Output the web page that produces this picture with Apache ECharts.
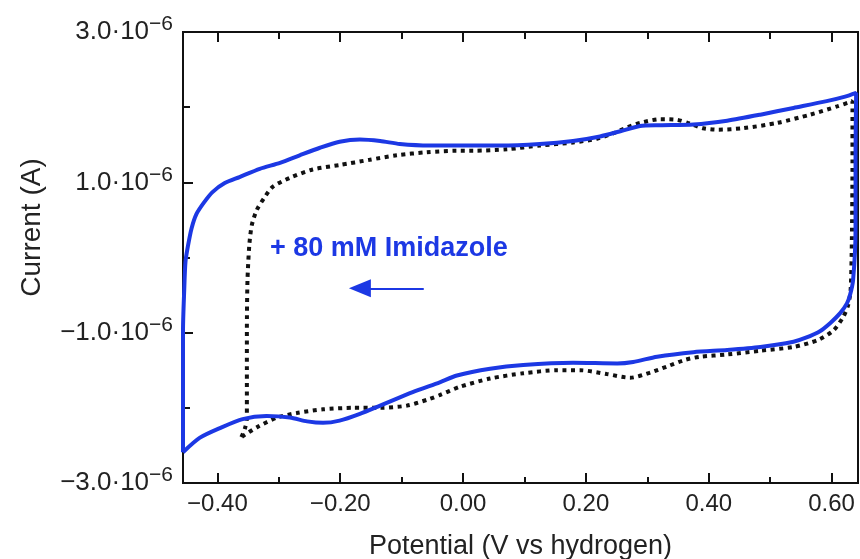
<!DOCTYPE html>
<html>
<head>
<meta charset="utf-8">
<script src="https://cdn.jsdelivr.net/npm/echarts@6/dist/echarts.min.js"></script>
<style>
html, body { margin: 0; padding: 0; background: #fff; }
#main { width: 860px; height: 559px; }
</style>
</head>
<body>
<div id="main"></div>
<script>
// potential (V) and current (uA) of the scan with imidazole
var imidV = [-0.456, -0.456, -0.456, -0.454, -0.452, -0.448, -0.442, -0.434, -0.422, -0.408,
	-0.388, -0.364, -0.331, -0.298, -0.266, -0.233, -0.201, -0.168, -0.135, -0.103,
	-0.054, -0.005, 0.060, 0.125, 0.179, 0.223, 0.256, 0.288, 0.321, 0.375,
	0.430, 0.484, 0.538, 0.592, 0.622, 0.640, 0.639, 0.639, 0.635, 0.630,
	0.625, 0.614, 0.598, 0.581, 0.557, 0.538, 0.484, 0.430, 0.375, 0.316,
	0.277, 0.251, 0.179, 0.098, 0.044, -0.010, -0.038, -0.082, -0.135, -0.168,
	-0.201, -0.228, -0.254, -0.282, -0.320, -0.359, -0.396, -0.429, -0.456];
var imidI = [-2.59, -1.90, -0.97, -0.43, -0.06, 0.15, 0.39, 0.58, 0.73, 0.87,
	0.99, 1.07, 1.18, 1.26, 1.36, 1.46, 1.54, 1.57, 1.55, 1.51,
	1.49, 1.49, 1.49, 1.51, 1.55, 1.61, 1.68, 1.75, 1.76, 1.77,
	1.82, 1.90, 1.99, 2.08, 2.14, 2.19, 1.43, 0.37, -0.30, -0.50,
	-0.61, -0.74, -0.87, -0.98, -1.07, -1.12, -1.19, -1.23, -1.26, -1.32,
	-1.39, -1.41, -1.40, -1.43, -1.48, -1.57, -1.66, -1.79, -1.97, -2.08,
	-2.17, -2.20, -2.18, -2.13, -2.11, -2.15, -2.27, -2.40, -2.59];
// control scan (dotted)
var ctrlV = [-0.361, -0.355, -0.352, -0.352, -0.352, -0.351, -0.348, -0.344, -0.336, -0.324,
	-0.310, -0.282, -0.245, -0.201, -0.152, -0.108, -0.059, -0.010, 0.016, 0.072,
	0.125, 0.179, 0.218, 0.244, 0.267, 0.288, 0.321, 0.349, 0.366, 0.391,
	0.415, 0.456, 0.511, 0.565, 0.609, 0.634, 0.634, 0.633, 0.631, 0.627,
	0.619, 0.603, 0.577, 0.538, 0.484, 0.430, 0.386, 0.362, 0.332, 0.305,
	0.272, 0.234, 0.191, 0.153, 0.098, 0.044, -0.005, -0.038, -0.054, -0.091,
	-0.135, -0.179, -0.228, -0.271, -0.303, -0.336, -0.361];
var ctrlI = [-2.39, -2.27, -2.14, -1.63, -0.97, -0.30, 0.17, 0.43, 0.63, 0.79,
	0.94, 1.06, 1.17, 1.23, 1.30, 1.36, 1.40, 1.42, 1.42, 1.44,
	1.49, 1.53, 1.58, 1.65, 1.73, 1.79, 1.84, 1.83, 1.79, 1.72,
	1.70, 1.72, 1.79, 1.90, 2.01, 2.08, 1.30, 0.23, -0.43, -0.63,
	-0.79, -0.97, -1.10, -1.19, -1.24, -1.29, -1.32, -1.36, -1.45, -1.53,
	-1.60, -1.55, -1.50, -1.50, -1.54, -1.61, -1.72, -1.83, -1.88, -1.97,
	-2.00, -2.00, -2.02, -2.07, -2.13, -2.26, -2.39];
// ticks
var xMajor = [-0.4, -0.2, 0, 0.2, 0.4, 0.6];
var xMinor = [-0.3, -0.1, 0.1, 0.3, 0.5];
var yMajor = [-3e-6, -1e-6, 1e-6, 3e-6];
var yMinor = [-2e-6, 0, 2e-6];
// arrow of the annotation (V, uA)
var arrowV = [-0.064, -0.168];
var arrowI = -0.41;

var xMin = -0.456, xMax = 0.643;
var font = 'Liberation Sans, Arial, Helvetica, sans-serif';
var blue = '#1c38e4';

function pairs(v, i) {
	var out = [];
	for (var k = 0; k < v.length; k++) {
		out.push([v[k], i[k] * 1e-6]);
	}
	return out;
}

function xAxisPart(pos, ticks, len, withLabel) {
	return {
		type: 'value', position: pos, min: xMin, max: xMax,
		axisLine: { show: false, onZero: false },
		splitLine: { show: false },
		axisTick: { show: true, inside: true, length: len, customValues: ticks,
			lineStyle: { color: '#111', width: 2 } },
		axisLabel: withLabel ? {
			show: true, customValues: ticks, margin: 9,
			color: '#222', fontSize: 24, fontFamily: font,
			formatter: function (v) { return v.toFixed(2).replace('-', '\u2212'); }
		} : { show: false }
	};
}

var xAxes = [
	xAxisPart('bottom', xMajor, 10, true),
	xAxisPart('bottom', xMinor, 6, false),
	xAxisPart('top', xMajor, 10, false),
	xAxisPart('top', xMinor, 7, false)
];
xAxes[0].name = 'Potential (V vs hydrogen)';
xAxes[0].nameLocation = 'middle';
xAxes[0].nameGap = 50;
xAxes[0].nameTextStyle = { color: '#222', fontSize: 27, fontFamily: font };

var yAxes = [{
	type: 'value', position: 'left', min: -3e-6, max: 3e-6,
	axisLine: { show: false, onZero: false },
	splitLine: { show: false },
	axisTick: { show: true, inside: true, length: 10, customValues: yMajor,
		lineStyle: { color: '#111', width: 2 } },
	axisLabel: {
		show: true, customValues: yMajor, margin: 10,
		formatter: function (v) {
			var m = (v * 1e6).toFixed(1).replace('-', '\u2212');
			return '{m|' + m + '\u00b710}{e|\u22126}';
		},
		rich: {
			m: { fontSize: 26, lineHeight: 36, color: '#222', fontFamily: font },
			e: { fontSize: 21, lineHeight: 18, verticalAlign: 'top', color: '#222', fontFamily: font }
		}
	},
	name: 'Current (A)', nameLocation: 'middle', nameGap: 137,
	nameTextStyle: { color: '#222', fontSize: 28, fontFamily: font, padding: [0, 0, 0, 60] }
}, {
	type: 'value', position: 'left', min: -3e-6, max: 3e-6,
	axisLine: { show: false, onZero: false },
	splitLine: { show: false },
	axisTick: { show: true, inside: true, length: 7, customValues: yMinor,
		lineStyle: { color: '#111', width: 2 } },
	axisLabel: { show: false }
}];

var chart = echarts.init(document.getElementById('main'));
chart.setOption({
	animation: false,
	backgroundColor: '#fff',
	grid: { left: 183, right: 2, top: 32, bottom: 76, show: true,
		outerBoundsMode: 'none', containLabel: false,
		borderColor: '#111', borderWidth: 2, backgroundColor: 'transparent' },
	xAxis: xAxes,
	yAxis: yAxes,
	graphic: [{
		type: 'text', left: 270, top: 235,
		style: { text: '+ 80 mM Imidazole', fill: blue, font: 'bold 27px ' + font }
	}],
	series: [{
		type: 'line', name: 'control', data: pairs(ctrlV, ctrlI),
		showSymbol: false, smooth: 0.25, clip: false,
		lineStyle: { color: '#111', width: 4, type: [4, 4.5], cap: 'butt' }
	}, {
		type: 'line', name: 'imidazole', data: pairs(imidV, imidI),
		showSymbol: false, smooth: 0.25, clip: false,
		lineStyle: { color: blue, width: 4 },
		markLine: {
			silent: true, animation: false,
			symbol: ['none', 'triangle'], symbolSize: [18, 22],
			label: { show: false },
			lineStyle: { color: blue, width: 2, type: 'solid' },
			data: [[{ coord: [arrowV[0], arrowI * 1e-6] }, { coord: [arrowV[1], arrowI * 1e-6] }]]
		}
	}]
});
</script>
</body>
</html>
